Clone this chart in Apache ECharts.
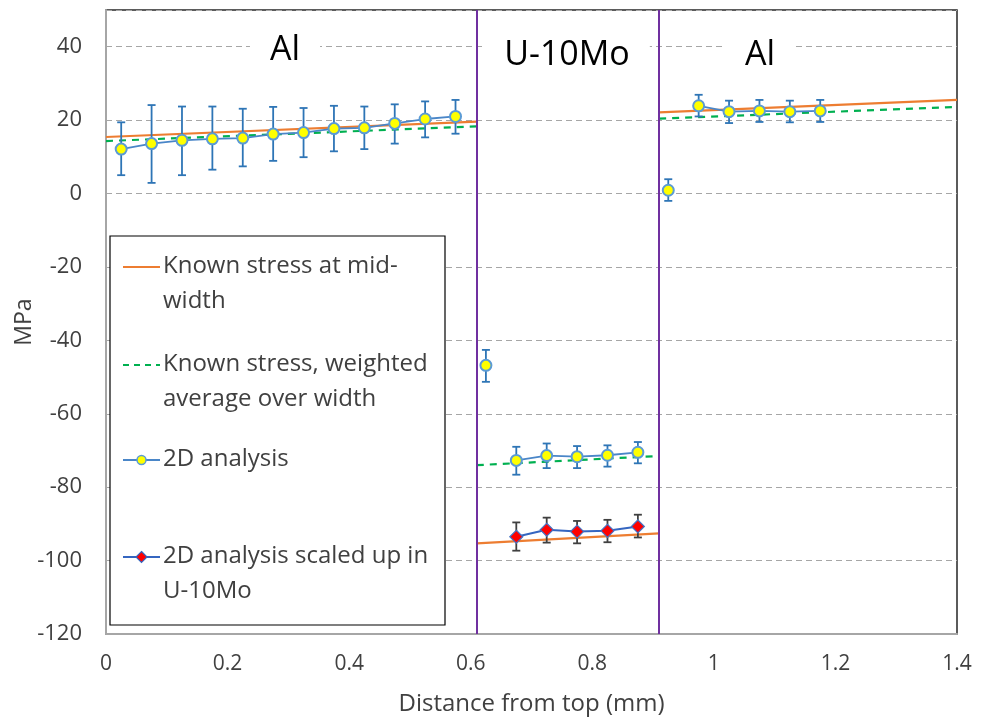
<!DOCTYPE html>
<html><head><meta charset="utf-8">
<script src="https://cdn.jsdelivr.net/npm/echarts@6/dist/echarts.min.js"></script>
<style>html,body{margin:0;padding:0;background:#fff}#c{width:988px;height:720px}</style>
</head><body><div id="c"></div>
<script>
// ---- Data ----
const xTicks = [0, 0.2, 0.4, 0.6, 0.8, 1, 1.2, 1.4];
const yTicks = [-120, -100, -80, -60, -40, -20, 0, 20, 40];
const interfaces = [0.61, 0.91];

// Known stress at mid-width (segments per region)
const midLeft = [[0, 15.4], [0.61, 19.6]];
const midCore = [[0.61, -95.3], [0.91, -92.6]];
const midRight = [[0.91, 22.1], [1.4, 25.5]];
// Known stress, weighted average over width
const avgLeft = [[0, 14.3], [0.61, 18.3]];
const avgCore = [[0.61, -74.0], [0.91, -71.5]];
const avgRight = [[0.91, 20.4], [1.4, 23.6]];

// 2D analysis: [x, value, low, high]
const a2dLeft = [
  [0.025, 12.1, 5.0, 19.4], [0.075, 13.6, 2.9, 24.1], [0.125, 14.5, 5.0, 23.7],
  [0.175, 14.9, 6.5, 23.7], [0.225, 15.1, 7.4, 23.1], [0.275, 16.2, 8.9, 23.6],
  [0.325, 16.6, 9.9, 23.3], [0.375, 17.7, 11.5, 23.9], [0.425, 17.9, 12.1, 23.7],
  [0.475, 19.1, 13.6, 24.3], [0.525, 20.3, 15.3, 25.1], [0.575, 21.0, 16.3, 25.5]
];
const a2dCoreEdge = [[0.625, -46.8, -51.3, -42.6]];
const a2dCore = [
  [0.675, -72.7, -76.6, -69.0], [0.725, -71.4, -74.8, -68.1], [0.775, -71.7, -74.8, -68.8],
  [0.825, -71.3, -74.4, -68.6], [0.875, -70.5, -73.5, -67.7]
];
const a2dRightEdge = [[0.925, 0.9, -2.0, 3.9]];
const a2dRight = [
  [0.975, 23.9, 21.0, 26.9], [1.025, 22.3, 19.2, 25.3], [1.075, 22.5, 19.5, 25.5],
  [1.125, 22.3, 19.4, 25.3], [1.175, 22.5, 19.5, 25.5]
];
// 2D analysis scaled up in U-10Mo
const scaledCore = [
  [0.675, -93.5, -97.3, -89.6], [0.725, -91.6, -95.1, -88.3], [0.775, -92.1, -95.3, -89.2],
  [0.825, -91.9, -95.0, -88.9], [0.875, -90.7, -93.7, -87.5]
];

const regionLabels = [
  { text: 'Al', x: 285, y: 50 },
  { text: 'U-10Mo', x: 567, y: 55 },
  { text: 'Al', x: 760, y: 55 }
];
const legendNames = [
  'Known stress at mid-\nwidth',
  'Known stress, weighted\naverage over width',
  '2D analysis',
  '2D analysis scaled up in\nU-10Mo'
];

// ---- helpers ----
function joinSegs(...segs) {
  const out = [];
  segs.forEach((s, i) => { if (i) out.push([s[0][0], '-']); s.forEach(p => out.push([p[0], p[1]])); });
  return out;
}
function pts(...groups) {
  const out = [];
  groups.forEach((g, i) => { if (i) out.push([g[0][0], '-']); g.forEach(p => out.push([p[0], p[1]])); });
  return out;
}
function errs(...groups) {
  const out = [];
  groups.forEach(g => g.forEach(p => out.push([p[0], p[2], p[3]])));
  return out;
}
function errSeries(data, color) {
  return {
    type: 'custom', silent: true, z: 3,
    data: data,
    renderItem: function (params, api) {
      const x = api.value(0);
      const lo = api.coord([x, api.value(1)]);
      const hi = api.coord([x, api.value(2)]);
      const w = 4;
      const st = { stroke: color, lineWidth: 1.8 };
      return {
        type: 'group', children: [
          { type: 'line', shape: { x1: lo[0], y1: lo[1], x2: hi[0], y2: hi[1] }, style: st },
          { type: 'line', shape: { x1: lo[0] - w, y1: lo[1], x2: lo[0] + w, y2: lo[1] }, style: st },
          { type: 'line', shape: { x1: hi[0] - w, y1: hi[1], x2: hi[0] + w, y2: hi[1] }, style: st }
        ]
      };
    }
  };
}

const FONT = 'Open Sans';
const txt = '#404040';
const chart = echarts.init(document.getElementById('c'), null, { renderer: 'canvas' });

// legend graphic
const LX = 110, LY = 236, LW = 335, LH = 389;
const legRows = [267, 365, 460, 557];
const legendGraphic = [
  { type: 'rect', shape: { x: LX, y: LY, width: LW, height: LH }, style: { fill: '#fff', stroke: '#000', lineWidth: 1.2 }, z: 100 },
  { type: 'line', shape: { x1: 123, y1: legRows[0], x2: 160, y2: legRows[0] }, style: { stroke: '#ED7D31', lineWidth: 2 }, z: 101 },
  { type: 'line', shape: { x1: 123, y1: legRows[1], x2: 160, y2: legRows[1] }, style: { stroke: '#00B050', lineWidth: 2, lineDash: [6, 5] }, z: 101 },
  { type: 'line', shape: { x1: 123, y1: legRows[2], x2: 160, y2: legRows[2] }, style: { stroke: '#4A86C8', lineWidth: 1.8 }, z: 101 },
  { type: 'circle', shape: { cx: 141.5, cy: legRows[2], r: 4.5 }, style: { fill: '#FFFF00', stroke: '#5B9BD5', lineWidth: 1.5 }, z: 102 },
  { type: 'line', shape: { x1: 123, y1: legRows[3], x2: 160, y2: legRows[3] }, style: { stroke: '#3566C0', lineWidth: 1.8 }, z: 101 },
  { type: 'polygon', shape: { points: [[141.5, legRows[3] - 5.5], [147, legRows[3]], [141.5, legRows[3] + 5.5], [136, legRows[3]]] }, style: { fill: '#FF0000', stroke: '#3566C0', lineWidth: 1.2 }, z: 102 }
];
legendNames.forEach((n, i) => {
  legendGraphic.push({
    type: 'text', z: 103, left: 163, top: legRows[i] - 18,
    style: { text: n, font: '24px "' + FONT + '"', fill: txt, lineHeight: 35, textVerticalAlign: 'top' }
  });
});
regionLabels.forEach(r => {
  legendGraphic.push({
    type: 'text', z: 50, x: r.x, y: r.y,
    style: {
      text: r.text, font: '34px "' + FONT + '"', fill: '#000', textAlign: 'center', textVerticalAlign: 'middle',
      backgroundColor: '#fff', padding: [0, 20]
    }
  });
});

chart.setOption({
  animation: false,
  backgroundColor: '#fff',
  grid: { left: 106, right: 31, top: 10, bottom: 86, show: true, borderColor: '#262626', borderWidth: 1.5,
    backgroundColor: 'transparent', containLabel: false, outerBoundsMode: 'none' },
  xAxis: {
    type: 'value', min: 0, max: 1.4, interval: 0.2,
    name: 'Distance from top (mm)', nameLocation: 'middle', nameGap: 58, nameMoveOverlap: false,
    nameTextStyle: { fontFamily: FONT, fontSize: 24, color: txt },
    axisLine: { show: true, onZero: false, lineStyle: { color: '#A6A6A6', width: 2 } },
    axisTick: { show: false },
    splitLine: { show: false },
    axisLabel: { fontFamily: FONT, fontSize: 21, color: txt, margin: 20, formatter: v => String(+v.toFixed(1)) }
  },
  yAxis: {
    type: 'value', min: -120, max: 50, interval: 20,
    name: 'MPa', nameLocation: 'middle', nameGap: 70, nameRotate: 90, nameMoveOverlap: false,
    nameTextStyle: { fontFamily: FONT, fontSize: 23, color: txt },
    axisLine: { show: true, onZero: false, lineStyle: { color: '#A6A6A6', width: 2 } },
    axisTick: { show: false },
    splitLine: { show: true, lineStyle: { color: '#A6A6A6', type: [6, 4], width: 1.2 } },
    axisLabel: { fontFamily: FONT, fontSize: 22, color: txt, margin: 24, showMaxLabel: false,
      formatter: v => (yTicks.indexOf(v) >= 0 ? String(v) : '') }
  },
  graphic: legendGraphic,
  series: [
    {
      name: legendNames[0], type: 'line', z: 2, symbol: 'none', connectNulls: false,
      data: joinSegs(midLeft, midCore, midRight),
      lineStyle: { color: '#ED7D31', width: 2.2 },
      markLine: {
        silent: true, symbol: 'none', label: { show: false },
        lineStyle: { color: '#7030A0', width: 2, type: 'solid' },
        data: interfaces.map(v => ({ xAxis: v }))
      }
    },
    {
      name: legendNames[1], type: 'line', z: 2, symbol: 'none', connectNulls: false,
      data: joinSegs(avgLeft, avgCore, avgRight),
      lineStyle: { color: '#00B050', width: 2.2, type: [7, 6] }
    },
    errSeries(errs(a2dLeft, a2dCoreEdge, a2dCore, a2dRightEdge, a2dRight), '#2E75B6'),
    errSeries(errs(scaledCore), '#404040'),
    {
      name: legendNames[2], type: 'line', z: 4, connectNulls: false,
      data: pts(a2dLeft, a2dCoreEdge, a2dCore, a2dRightEdge, a2dRight),
      symbol: 'circle', symbolSize: 11, showAllSymbol: true,
      lineStyle: { color: '#4A86C8', width: 1.8 },
      itemStyle: { color: '#FFFF00', borderColor: '#5B9BD5', borderWidth: 2 }
    },
    {
      name: legendNames[3], type: 'line', z: 4, connectNulls: false,
      data: pts(scaledCore),
      symbol: 'diamond', symbolSize: 13,
      lineStyle: { color: '#3566C0', width: 2 },
      itemStyle: { color: '#FF0000', borderColor: '#4472C4', borderWidth: 1.2 }
    }
  ]
});
</script></body></html>
